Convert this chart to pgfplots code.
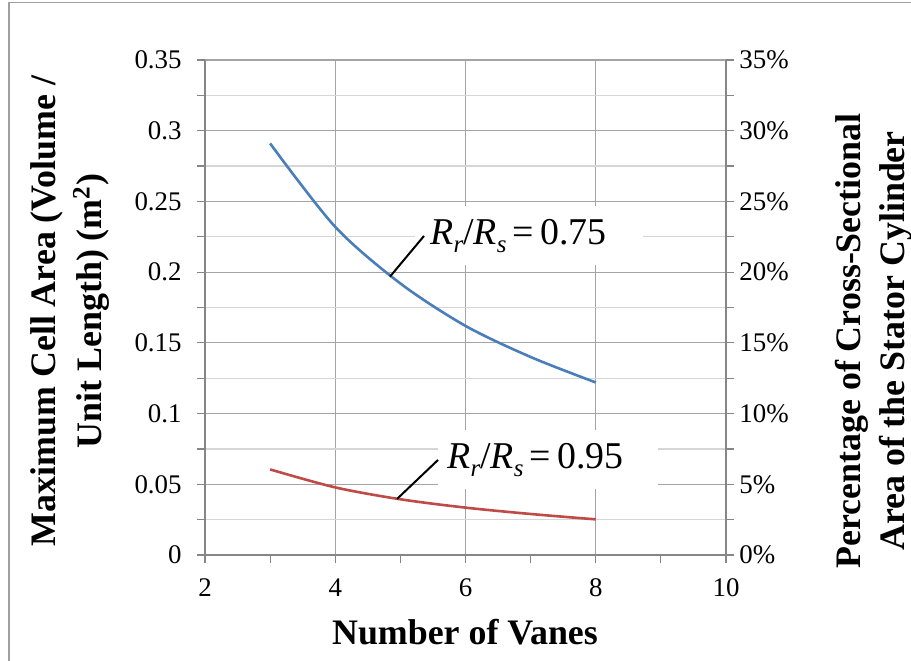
\documentclass[border=0pt]{standalone}
\usepackage{pgfplots}
\pgfplotsset{compat=1.18}
\usepackage{fontspec}
\setmainfont{Liberation Serif}

\definecolor{blueline}{HTML}{4A7EBB}
\definecolor{redline}{HTML}{BE4B48}
\definecolor{axisgray}{HTML}{868686}
\definecolor{majgrid}{HTML}{A4A4A4}
\definecolor{mingrid}{HTML}{D6D6D6}

% R_r/R_s = value, subscripts set low as in the original
\newcommand{\sub}[1]{\raisebox{-0.45ex}{\fontsize{12.5}{12.5}\selectfont\itshape #1}}
\newcommand{\ratio}[1]{\textit{R}\sub{r}/\textit{R}\sub{s}\,=\,#1}

\begin{document}
\begin{tikzpicture}
\useasboundingbox (-102.5bp,-53bp) rectangle (353bp,277.5bp);
\draw[gray!75, line width=0.8bp] (-98bp,-53bp) -- (-98bp,276.25bp) -- (353bp,276.25bp);

\pgfplotsset{every axis/.append style={
    scale only axis, width=260.5bp, height=247.5bp,
    at={(0,0)}, anchor=south west,
    xmin=2, xmax=10,
    tick label style={font=\fontsize{13.5}{13.5}\selectfont, inner sep=0pt},
    /pgf/number format/assume math mode=true,
    axis line style={axisgray, line width=0.6pt, -},
    every tick/.style={axisgray, line width=0.6pt},
    tick align=outside,
    major tick length=4bp, minor tick length=4bp,
}}

\begin{axis}[
    axis x line*=bottom, axis y line*=left,
    ymin=0, ymax=0.35,
    xtick={2,4,6,8,10}, minor xtick={3,5,7,9},
    ytick={0,0.05,0.1,0.15,0.2,0.25,0.3,0.35},
    minor ytick={0.025,0.075,0.125,0.175,0.225,0.275,0.325},
    xmajorgrids, ymajorgrids, yminorgrids,
    major grid style={majgrid, line width=0.6pt},
    minor grid style={mingrid, line width=0.6pt},
    scaled y ticks=false,
    yticklabel style={/pgf/number format/fixed, /pgf/number format/precision=2},
    yticklabel shift=7.5bp, xticklabel shift=7.5bp,
]
\addplot[blueline, line width=1.3bp, smooth] coordinates {
    (3,0.291) (4,0.232) (5,0.192) (6,0.162) (7,0.140) (8,0.122)};
\addplot[redline, line width=1.3bp, smooth] coordinates {
    (3,0.0605) (4,0.0478) (5,0.0394) (6,0.0335) (7,0.0290) (8,0.0252)};

\node[fill=white, anchor=west, inner xsep=7.5bp, inner ysep=0pt,
      minimum height=29.5bp, text width=99bp, align=left,
      font=\fontsize{19}{19}\selectfont] at (axis cs:5.225,0.2256) {\ratio{0.75}};
\draw[black, line width=1bp] (axis cs:4.84,0.1968) -- (axis cs:5.363,0.2256);

\node[fill=white, anchor=west, inner xsep=4.5bp, inner ysep=0pt,
      minimum height=29.5bp, text width=101bp, align=left,
      font=\fontsize{19}{19}\selectfont] at (axis cs:5.578,0.0672) {\ratio{0.95}};
\draw[black, line width=1bp] (axis cs:4.948,0.0396) -- (axis cs:5.578,0.0672);
\end{axis}

\begin{axis}[
    axis y line*=right, axis x line=none,
    ymin=0, ymax=35,
    ytick={0,5,10,15,20,25,30,35},
    minor ytick={2.5,7.5,12.5,17.5,22.5,27.5,32.5},
    yticklabel={\pgfmathprintnumber{\tick}\%},
    yticklabel shift=2.5bp,
]
\addplot[draw=none] coordinates {(2,0)};
\end{axis}

\node[rotate=90, anchor=base, font=\bfseries\fontsize{18}{18}\selectfont]
    at (-74.5bp,122bp) {Maximum Cell Area (Volume /};
\node[rotate=90, anchor=base, font=\bfseries\fontsize{18}{18}\selectfont]
    at (-51.5bp,122bp) {Unit Length) (m\textsuperscript{2})};
\node[rotate=90, anchor=base, font=\bfseries\fontsize{18}{18}\selectfont]
    at (327.5bp,107bp) {Percentage of Cross-Sectional};
\node[rotate=90, anchor=base, font=\bfseries\fontsize{18}{18}\selectfont]
    at (349.5bp,107bp) {Area of the Stator Cylinder};
\node[anchor=base, font=\bfseries\fontsize{18}{18}\selectfont]
    at (130bp,-44.5bp) {Number of Vanes};
\end{tikzpicture}
\end{document}
